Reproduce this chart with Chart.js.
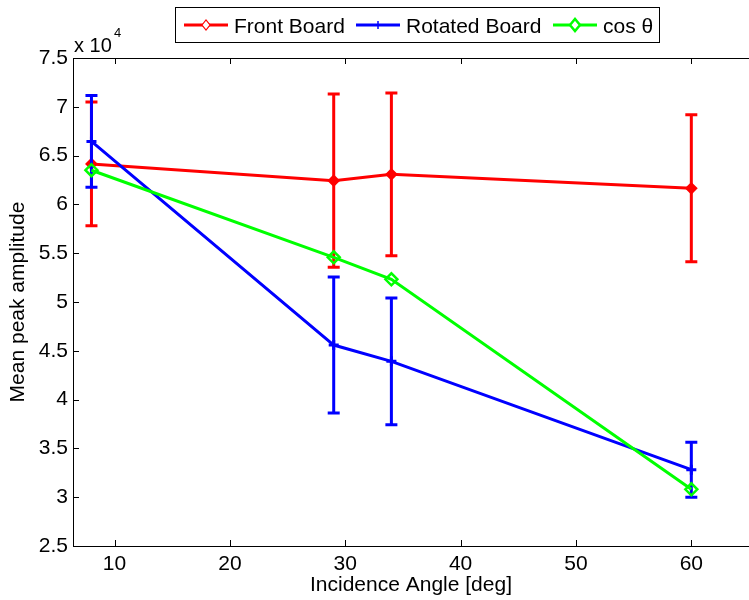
<!DOCTYPE html>
<html>
<head>
<meta charset="utf-8">
<script src="https://cdn.jsdelivr.net/npm/chart.js@4/dist/chart.umd.min.js"></script>
<style>
  body { margin: 0; background: #fff; }
  canvas { display: block; }
</style>
</head>
<body>
<canvas id="peakChart" width="749" height="600"></canvas>
<script>
const angles = [8, 29, 34, 60];
const frontMean = [64150, 62430, 63080, 61650];
const frontErr = [6350, 8870, 8330, 7530];
const rotatedMean = [66450, 45590, 43920, 32820];
const rotatedErr = [4700, 6970, 6490, 2820];
const cosMean = [63500, 54580, 52320, 30810];
const xTicks = [10, 20, 30, 40, 50, 60];

const FONT = "'Liberation Sans', Arial, Helvetica, sans-serif";

function toPoints(values) {
  return angles.map((a, i) => ({ x: a, y: values[i] }));
}

// vertical error bars with caps, drawn just before each line
const errorBars = {
  id: "errorBars",
  beforeDatasetDraw(chart, args) {
    const ds = chart.data.datasets[args.index];
    if (!ds.errors) return;
    const xs = chart.scales.x, ys = chart.scales.y;
    const ctx = chart.ctx;
    ctx.save();
    ctx.strokeStyle = ds.borderColor;
    ctx.lineWidth = 3;
    ds.data.forEach((p, i) => {
      const px = xs.getPixelForValue(p.x);
      const top = ys.getPixelForValue(p.y + ds.errors[i]);
      const bot = ys.getPixelForValue(p.y - ds.errors[i]);
      ctx.beginPath();
      ctx.moveTo(px, top); ctx.lineTo(px, bot);
      ctx.moveTo(px - 6, top); ctx.lineTo(px + 6, top);
      ctx.moveTo(px - 6, bot); ctx.lineTo(px + 6, bot);
      ctx.stroke();
    });
    ctx.restore();
  }
};

// matlab style box: left, bottom and top lines with inward ticks
const axesFrame = {
  id: "axesFrame",
  beforeDatasetsDraw(chart) {
    const { ctx, chartArea: a, scales } = chart;
    ctx.save();
    ctx.strokeStyle = "#000";
    ctx.lineWidth = 1;
    ctx.beginPath();
    ctx.moveTo(a.left + 0.5, a.top); ctx.lineTo(a.left + 0.5, a.bottom);
    ctx.moveTo(a.left, a.bottom + 0.5); ctx.lineTo(a.right, a.bottom + 0.5);
    ctx.moveTo(a.left, a.top + 0.5); ctx.lineTo(a.right, a.top + 0.5);
    scales.x.ticks.forEach(t => {
      const px = Math.round(scales.x.getPixelForValue(t.value)) + 0.5;
      ctx.moveTo(px, a.bottom); ctx.lineTo(px, a.bottom - 6);
      ctx.moveTo(px, a.top); ctx.lineTo(px, a.top + 6);
    });
    scales.y.ticks.forEach(t => {
      const py = Math.round(scales.y.getPixelForValue(t.value)) + 0.5;
      ctx.moveTo(a.left, py); ctx.lineTo(a.left + 6, py);
    });
    ctx.stroke();
    ctx.restore();
  },
  afterDraw(chart) {
    const { ctx, chartArea: a } = chart;
    ctx.save();
    // exponent label
    ctx.fillStyle = "#000";
    ctx.textBaseline = "alphabetic";
    ctx.font = "20px " + FONT;
    ctx.fillText("x 10", a.left + 1, 52);
    ctx.font = "13px " + FONT;
    ctx.fillText("4", a.left + 41, 37);

    // legend box
    ctx.fillStyle = "#fff";
    ctx.fillRect(175, 7, 484, 35);
    ctx.strokeStyle = "#000";
    ctx.lineWidth = 1;
    ctx.strokeRect(175.5, 7.5, 484, 35);

    const items = [
      { label: "Front Board", color: "#ff0000", x: 184, mark: "open" },
      { label: "Rotated Board", color: "#0000ff", x: 356, mark: "plus" },
      { label: "cos \u03b8", color: "#00ff00", x: 553, mark: "diamond" }
    ];
    const ly = 25;
    items.forEach(it => {
      ctx.strokeStyle = it.color;
      ctx.lineWidth = 3;
      ctx.beginPath();
      ctx.moveTo(it.x, ly); ctx.lineTo(it.x + 44, ly);
      ctx.stroke();
      const mx = it.x + 22;
      ctx.beginPath();
      if (it.mark === "plus") {
        ctx.lineWidth = 1.5;
        ctx.moveTo(mx, ly - 4); ctx.lineTo(mx, ly + 4);
      } else {
        const w = it.mark === "open" ? 4 : 5;
        const h = it.mark === "open" ? 5 : 6;
        ctx.lineWidth = it.mark === "open" ? 1.2 : 2.5;
        ctx.moveTo(mx - w, ly); ctx.lineTo(mx, ly - h);
        ctx.lineTo(mx + w, ly); ctx.lineTo(mx, ly + h);
        ctx.closePath();
        ctx.fillStyle = "#fff";
        ctx.fill();
      }
      ctx.stroke();
      ctx.fillStyle = "#000";
      ctx.font = "21px " + FONT;
      ctx.textBaseline = "alphabetic";
      ctx.fillText(it.label, it.x + 50, 33);
    });
    ctx.restore();
  }
};

new Chart(document.getElementById("peakChart").getContext("2d"), {
  type: "line",
  data: {
    datasets: [
      {
        label: "Front Board",
        data: toPoints(frontMean),
        errors: frontErr,
        borderColor: "#ff0000",
        backgroundColor: "#ff0000",
        borderWidth: 3,
        pointStyle: "rectRot",
        pointRadius: 5,
        pointBorderWidth: 2,
        order: 3
      },
      {
        label: "Rotated Board",
        data: toPoints(rotatedMean),
        errors: rotatedErr,
        borderColor: "#0000ff",
        backgroundColor: "#0000ff",
        borderWidth: 3,
        pointStyle: "cross",
        pointRadius: 5,
        pointBorderWidth: 3,
        order: 2
      },
      {
        label: "cos \u03b8",
        data: toPoints(cosMean),
        borderColor: "#00ff00",
        backgroundColor: "rgba(0,0,0,0)",
        borderWidth: 3,
        pointStyle: "rectRot",
        pointRadius: 6,
        pointBorderWidth: 2.5,
        order: 1
      }
    ]
  },
  options: {
    responsive: false,
    animation: false,
    layout: { autoPadding: false, padding: { top: 58, right: 0, left: 0, bottom: 0 } },
    plugins: {
      legend: { display: false },
      tooltip: { enabled: false }
    },
    elements: { line: { tension: 0, fill: false } },
    scales: {
      x: {
        type: "linear",
        min: 6.4,
        max: 65,
        afterFit(s) { s.height = 54; s.paddingLeft = 0; s.paddingRight = 0; },
        afterBuildTicks(s) { s.ticks = xTicks.map(v => ({ value: v })); },
        grid: { display: false, drawTicks: false },
        border: { display: false },
        ticks: { color: "#000", padding: 6, font: { family: FONT, size: 21 } },
        title: {
          display: true,
          text: "Incidence Angle [deg]",
          color: "#000",
          padding: { top: 0, bottom: 2 },
          font: { family: FONT, size: 21 }
        }
      },
      y: {
        min: 25000,
        max: 75000,
        afterFit(s) { s.width = 73; s.paddingTop = 0; s.paddingBottom = 0; },
        grid: { display: false, drawTicks: false },
        border: { display: false },
        ticks: {
          stepSize: 5000,
          color: "#000",
          padding: 5,
          font: { family: FONT, size: 21 },
          callback: v => String(v / 10000)
        },
        title: {
          display: true,
          text: "Mean peak amplitude",
          color: "#000",
          padding: { top: 6, bottom: 0 },
          font: { family: FONT, size: 21 }
        }
      }
    }
  },
  plugins: [errorBars, axesFrame]
});
</script>
</body>
</html>
